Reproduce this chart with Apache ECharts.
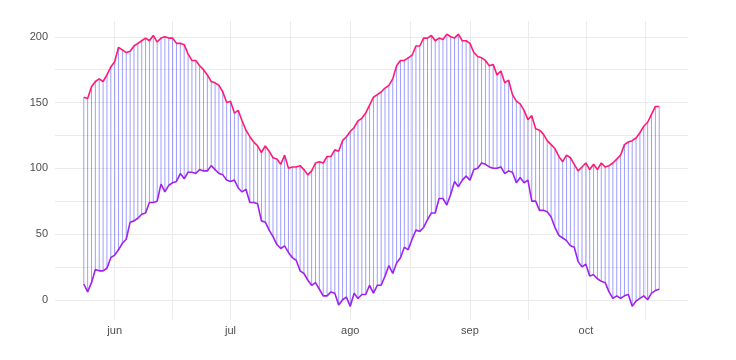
<!DOCTYPE html>
<html>
<head>
<meta charset="utf-8">
<script src="https://cdn.jsdelivr.net/npm/echarts@6/dist/echarts.min.js"></script>
<style>html,body{margin:0;padding:0;background:#fff}#c{width:736px;height:360px}</style>
</head>
<body>
<div id="c"></div>
<script>
// Daily series from 24 May to 20 Oct
const startDate = [2023, 4, 24];
const upperValues = [
  154,153,162,166,168,166,171,177,181,192,
  190,188,189,193,195,197,199,197,201,196,
  199,200,199,199,195,195,194,187,182,182,
  178,175,171,166,165,163,158,150,151,142,
  144,136,129,124,120,117,112,117,113,108,
  107,103,110,100,101,101,102,99,95,98,
  104,105,104,109,109,114,113,121,124,128,
  131,136,138,142,148,154,156,158,161,163,
  168,178,182,182,184,186,193,193,199,199,
  201,197,199,198,202,200,199,202,197,197,
  195,188,185,184,182,178,179,171,174,165,
  167,156,151,149,144,137,140,130,129,126,
  121,118,115,109,105,110,108,103,98,101,
  104,99,103,99,104,101,102,104,107,110,
  118,120,121,123,127,132,135,141,147,147
];
const lowerValues = [
  12,6,13,23,22,22,24,32,34,38,
  43,46,59,60,62,65,66,74,74,75,
  88,82,87,89,90,96,92,97,97,96,
  99,98,98,102,99,96,95,91,90,91,
  85,82,84,74,74,73,60,59,53,48,
  42,39,41,36,32,30,22,20,15,11,
  13,8,3,3,6,5,-4,0,2,-5,
  5,1,4,4,11,5,11,11,18,26,
  20,28,32,40,38,46,53,52,55,61,
  66,66,77,77,72,80,90,86,91,94,
  91,99,100,104,103,101,100,100,101,96,
  98,97,89,93,89,91,75,75,68,68,
  67,63,55,49,47,45,41,40,29,25,
  27,18,19,16,14,13,6,1,3,1,
  3,4,-5,-1,1,3,0,5,7,8
];
const monthNames = ['ene','feb','mar','abr','may','jun','jul','ago','sep','oct','nov','dic'];
const yLabelTicks = [0, 50, 100, 150, 200];
const yGridTicks = [0, 25, 50, 75, 100, 125, 150, 175, 200];

const DAY = 86400000;
const t0 = new Date(startDate[0], startDate[1], startDate[2]).getTime();
const dates = upperValues.map((_, i) => t0 + i * DAY);
const yr = startDate[0];
const monthStarts = [5, 6, 7, 8, 9].map(m => new Date(yr, m, 1).getTime());
const gridTicks = [];
[4, 5, 6, 7, 8, 9].forEach(m => {
  const a = new Date(yr, m, 1).getTime();
  const b = new Date(yr, m + 1, 1).getTime();
  if (m >= 5) gridTicks.push(a);
  gridTicks.push((a + b) / 2);
});
const span = dates[dates.length - 1] - dates[0];
const xMin = dates[0] - span * 0.05;
const xMax = dates[dates.length - 1] + span * 0.05;

const upperData = dates.map((t, i) => [t, upperValues[i]]);
const lowerData = dates.map((t, i) => [t, lowerValues[i]]);
const rangeData = dates.map((t, i) => [t, lowerValues[i], upperValues[i]]);

const chart = echarts.init(document.getElementById('c'), null, {renderer: 'canvas'});
chart.setOption({
  animation: false,
  backgroundColor: '#ffffff',
  grid: {left: 55, right: 48, top: 21, bottom: 40.5, containLabel: false},
  xAxis: {
    type: 'value',
    min: xMin, max: xMax,
    axisLine: {show: false},
    axisTick: {show: false, customValues: gridTicks},
    axisLabel: {
      customValues: monthStarts,
      color: '#4d4d4d', fontSize: 11, margin: 6,
      fontFamily: 'Liberation Sans, Arial, sans-serif',
      formatter: v => monthNames[new Date(v).getMonth()]
    },
    splitLine: {show: true, lineStyle: {color: '#ebebeb', width: 1}}
  },
  yAxis: {
    type: 'value',
    min: -15, max: 212,
    axisLine: {show: false},
    axisTick: {show: false, customValues: yGridTicks},
    axisLabel: {
      customValues: yLabelTicks,
      color: '#4d4d4d', fontSize: 11, margin: 7,
      fontFamily: 'Liberation Sans, Arial, sans-serif'
    },
    splitLine: {show: true, lineStyle: {color: '#ebebeb', width: 1}}
  },
  series: [
    {
      type: 'custom',
      data: rangeData,
      encode: {x: 0, y: [1, 2]},
      renderItem: function (params, api) {
        const p1 = api.coord([api.value(0), api.value(1)]);
        const p2 = api.coord([api.value(0), api.value(2)]);
        return {
          type: 'line',
          shape: {x1: p1[0], y1: p1[1], x2: p2[0], y2: p2[1]},
          style: {stroke: 'rgba(40,40,255,0.45)', lineWidth: 1}
        };
      },
      z: 1
    },
    {
      type: 'line', data: upperData, showSymbol: false, symbol: 'none',
      lineStyle: {color: '#ff1a75', width: 1.6}, z: 3
    },
    {
      type: 'line', data: lowerData, showSymbol: false, symbol: 'none',
      lineStyle: {color: '#a020f0', width: 1.6}, z: 3
    }
  ]
});
</script>
</body>
</html>
